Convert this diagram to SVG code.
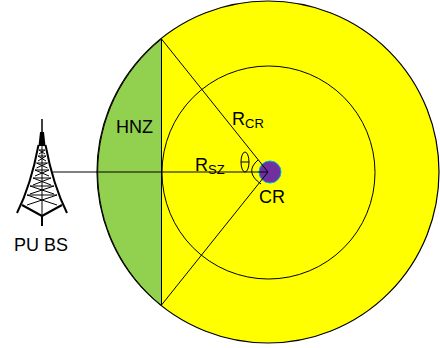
<svg xmlns="http://www.w3.org/2000/svg" width="440" height="348" viewBox="0 0 440 348">
<style>
.l{fill:none;stroke:#000;stroke-width:1}
.t{stroke:#000;fill:none;stroke-width:1}
text{font-family:"Liberation Sans",Arial,sans-serif;fill:#000;font-size:18px}
.s{font-size:13px}
</style>
<rect width="440" height="348" fill="#fff"/>
<g id="coverage">
<circle cx="268" cy="172" r="171" fill="#ffff00" stroke="#000" stroke-width="1.2"/>
</g>
<g id="hnz">
<path d="M161.500 39A171 171 0 0 0 161.500 305.500Z" fill="#92d050" stroke="#000" stroke-width="1"/>
<text x="116" y="133">HNZ</text>
</g>
<g id="sz">
<circle cx="268.500" cy="172.500" r="106.500" class="l"/>
</g>
<g id="cr">
<circle cx="270" cy="172" r="11" fill="#7030a0" stroke="#00b0f0" stroke-width="1"/>
<text x="259" y="203">CR</text>
</g>
<g id="pu-bs">
<path d="M42 119V133" stroke="#000" stroke-width="1.500"/>
<path d="M40 132H44L45.500 146H38.500Z" fill="#000"/>
<path d="M38.500 145Q31 185 17 213M45.500 145Q53 185 67 213" fill="none" stroke="#000" stroke-width="2"/>
<path d="M22 205L42 216L62 205M42 216V226" fill="none" stroke="#000" stroke-width="2"/>
<path class="t" d="M39 150L45 154M45 150L39 154M38 156L46 161M46 156L38 161M36.500 163L47.500 168M47.500 163L36.500 168M35 170L49 176M49 170L35 176M33 178L51 185M51 178L33 185M30 186L54 194M54 186L30 194M27 195L57 205M57 195L27 205M42 146V216M39 150H45M38 156H46M36.500 163H47.500M35 170H49M33 178H51M30 186H54M27 195H57"/>
<text x="14" y="251">PU BS</text>
</g>
<g id="connectors">
<path class="l" d="M53 172H268"/>
<path class="l" d="M161.500 39L268 172L161.500 305"/>
<ellipse cx="245" cy="162" rx="4" ry="10" class="l"/>
<path class="l" d="M241 162H249"/>
<path class="l" d="M258 160Q244 172 261 184"/>
</g>
<g id="labels">
<text x="232" y="125">R<tspan class="s" dy="3">CR</tspan></text>
<text x="195" y="171">R<tspan class="s" dy="3">SZ</tspan></text>
</g>
</svg>
